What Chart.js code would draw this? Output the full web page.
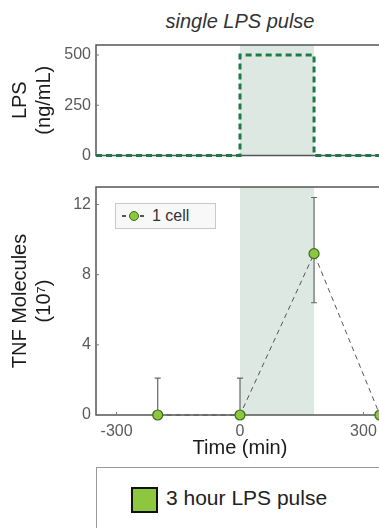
<!DOCTYPE html>
<html>
<head>
<meta charset="utf-8">
<script src="https://cdn.jsdelivr.net/npm/chart.js@4.4.0/dist/chart.umd.min.js"></script>
<style>
  body { margin: 0; width: 379px; height: 528px; overflow: hidden; background: #fff; position: relative;
         font-family: "Liberation Sans", Arial, sans-serif; }
  canvas { position: absolute; left: 0; }
  #lpsChart { top: 0; }
  #tnfChart { top: 170px; }
  #titolo { position: absolute; left: 96px; width: 288px; top: 10px; text-align: center;
            font-style: italic; font-size: 20px; color: #333; }
  #legCell { position: absolute; left: 115px; top: 203px; width: 99px; height: 24px;
             border: 1.5px solid #c9c9c9; background: #f8f8f8; }
  #legCell .trat { position: absolute; top: 11px; width: 4px; height: 1.5px; background: #555; }
  #legCell .punto { position: absolute; left: 13px; top: 7px; width: 8px; height: 8px; border-radius: 50%;
                    background: #8dc63f; border: 1px solid #3b6b1c; }
  #legCell .testo { position: absolute; left: 36px; top: 3px; font-size: 16px; color: #333; }
  #legPulse { position: absolute; left: 96px; top: 467px; width: 400px; height: 100px;
              border: 1.5px solid #999; background: #fff; }
  #legPulse .quadro { position: absolute; left: 34px; top: 19px; width: 23px; height: 22px;
                      background: #8dc63f; border: 2px solid #111; }
  #legPulse .testo { position: absolute; left: 69px; top: 18px; font-size: 21px; color: #222; }
</style>
</head>
<body>
<div id="titolo">single LPS pulse</div>
<canvas id="lpsChart" width="420" height="170"></canvas>
<canvas id="tnfChart" width="420" height="300"></canvas>
<div id="legCell">
  <span class="trat" style="left:6px"></span><span class="punto"></span><span class="trat" style="left:24px"></span>
  <span class="testo">1 cell</span>
</div>
<div id="legPulse"><span class="quadro"></span><span class="testo">3 hour LPS pulse</span></div>
<script>
// ── Dati ─────────────────────────────────────────────────────
const tempoLps = [-350, 0, 0, 180, 180, 350];
const concLps = [0, 0, 500, 500, 0, 0];
const tempoTnf = [-200, 0, 180, 340];
const molTnf = [0, 0, 9.2, 0];
const erroreBasso = [0, 0, 6.4, null];
const erroreAlto = [2.1, 2.1, 12.4, null];
const tickTempo = [-300, 0, 300];
const tickLps = [0, 250, 500];
const tickTnf = [0, 4, 8, 12];
const inizioImpulso = 0;
const fineImpulso = 180;

const famiglia = '"Liberation Sans", Arial, sans-serif';

// banda dell'impulso + cornice (senza lato destro) + tacche interne
const sfondo = {
    id: 'sfondo',
    beforeDatasetsDraw(chart, args, opts) {
        const { ctx, chartArea: a, scales: { x, y } } = chart;
        ctx.save();
        ctx.fillStyle = '#dde8e2';
        const x0 = x.getPixelForValue(inizioImpulso);
        const x1 = x.getPixelForValue(fineImpulso);
        ctx.fillRect(x0, a.top, x1 - x0, a.bottom - a.top);

        ctx.strokeStyle = '#555';
        ctx.lineWidth = 1.5;
        ctx.beginPath();
        ctx.moveTo(a.right + 20, a.top); ctx.lineTo(a.left, a.top);
        ctx.lineTo(a.left, a.bottom); ctx.lineTo(a.right + 20, a.bottom);
        ctx.stroke();

        ctx.strokeStyle = '#777';
        ctx.lineWidth = 1;
        y.ticks.forEach(t => {
            const py = y.getPixelForValue(t.value);
            ctx.beginPath(); ctx.moveTo(a.left, py); ctx.lineTo(a.left + 3, py); ctx.stroke();
        });
        if (opts.tackX) {
            x.ticks.forEach(t => {
                const px = x.getPixelForValue(t.value);
                ctx.beginPath(); ctx.moveTo(px, a.bottom); ctx.lineTo(px, a.bottom - 3); ctx.stroke();
            });
        }
        ctx.restore();
    }
};

// barre d'errore
const barreErrore = {
    id: 'barreErrore',
    beforeDatasetsDraw(chart) {
        const { ctx, scales: { x, y } } = chart;
        ctx.save();
        ctx.strokeStyle = '#666';
        ctx.lineWidth = 1.2;
        tempoTnf.forEach((t, i) => {
            if (erroreAlto[i] == null) return;
            const px = x.getPixelForValue(t);
            const yLo = y.getPixelForValue(erroreBasso[i]);
            const yHi = y.getPixelForValue(erroreAlto[i]);
            ctx.beginPath();
            ctx.moveTo(px, yLo); ctx.lineTo(px, yHi);
            ctx.moveTo(px - 3, yHi); ctx.lineTo(px + 3, yHi);
            if (erroreBasso[i] > 0) { ctx.moveTo(px - 3, yLo); ctx.lineTo(px + 3, yLo); }
            ctx.stroke();
        });
        ctx.restore();
    }
};

// ── LPS ──────────────────────────────────────────────────────
new Chart(document.getElementById('lpsChart'), {
    type: 'line',
    data: {
        datasets: [{
            data: tempoLps.map((t, i) => ({ x: t, y: concLps[i] })),
            borderColor: '#1d7a46',
            borderWidth: 3,
            borderDash: [6, 4],
            pointRadius: 0,
            tension: 0,
            clip: false
        }]
    },
    options: {
        responsive: false,
        animation: false,
        layout: { padding: { top: 45, right: 36, bottom: 11, left: 0 } },
        plugins: { legend: { display: false }, tooltip: { enabled: false }, sfondo: { tackX: false } },
        scales: {
            x: {
                type: 'linear', min: -350, max: 350,
                grid: { display: false, drawTicks: false },
                border: { display: false },
                ticks: { display: false },
                afterFit: s => { s.height = 0; }
            },
            y: {
                min: 0, max: 550,
                afterBuildTicks: s => { s.ticks = tickLps.map(v => ({ value: v })); },
                grid: { display: false, drawTicks: false },
                border: { display: false },
                ticks: { color: '#5a5a5a', font: { size: 16, family: famiglia }, padding: 5 },
                title: {
                    display: true, text: ['LPS', '(ng/mL)'], color: '#1a1a1a',
                    font: { size: 20, family: famiglia }, padding: { top: 8, bottom: 0 }
                },
                afterFit: s => { s.width = 96; }
            }
        }
    },
    plugins: [sfondo]
});

// ── TNF ──────────────────────────────────────────────────────
new Chart(document.getElementById('tnfChart'), {
    type: 'line',
    data: {
        datasets: [{
            label: '1 cell',
            data: tempoTnf.map((t, i) => ({ x: t, y: molTnf[i] })),
            borderColor: '#555',
            borderWidth: 1,
            borderDash: [5, 4],
            pointRadius: 5,
            pointBackgroundColor: '#8dc63f',
            pointBorderColor: '#3b6b1c',
            pointBorderWidth: 1.2,
            tension: 0,
            clip: false
        }]
    },
    options: {
        responsive: false,
        animation: false,
        layout: { padding: { top: 17, right: 36, bottom: 0, left: 0 } },
        plugins: { legend: { display: false }, tooltip: { enabled: false }, sfondo: { tackX: true } },
        scales: {
            x: {
                type: 'linear', min: -350, max: 350,
                afterBuildTicks: s => { s.ticks = tickTempo.map(v => ({ value: v })); },
                grid: { display: false, drawTicks: false },
                border: { display: false },
                ticks: { color: '#5a5a5a', font: { size: 16, family: famiglia }, padding: 7 },
                title: {
                    display: true, text: 'Time (min)', color: '#1a1a1a',
                    font: { size: 20, family: famiglia }, padding: { top: 0, bottom: 10 }
                },
                afterFit: s => { s.height = 55; }
            },
            y: {
                min: 0, max: 13,
                afterBuildTicks: s => { s.ticks = tickTnf.map(v => ({ value: v })); },
                grid: { display: false, drawTicks: false },
                border: { display: false },
                ticks: { color: '#5a5a5a', font: { size: 16, family: famiglia }, padding: 5 },
                title: {
                    display: true, text: ['TNF Molecules', '(10⁷)'], color: '#1a1a1a',
                    font: { size: 20, family: famiglia }, padding: { top: 8, bottom: 0 }
                },
                afterFit: s => { s.width = 96; }
            }
        }
    },
    plugins: [sfondo, barreErrore]
});
</script>
</body>
</html>
